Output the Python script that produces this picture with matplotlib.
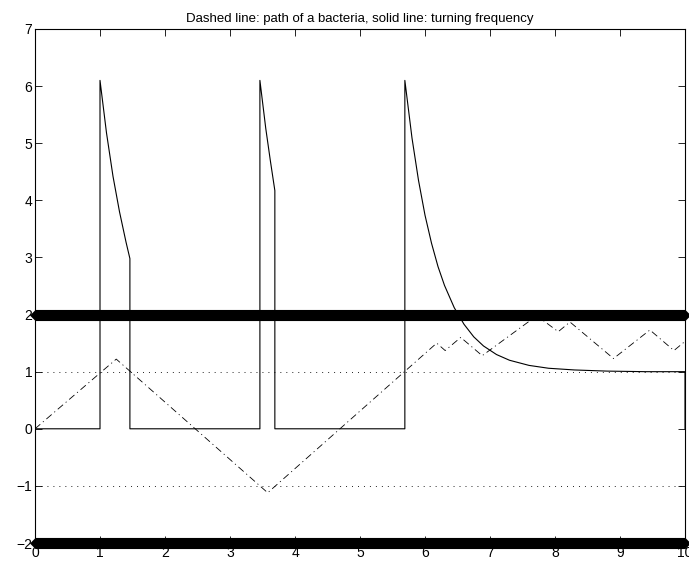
import numpy as np
import matplotlib
matplotlib.use("Agg")
import matplotlib.pyplot as plt

plt.rcParams['font.family'] = ['Liberation Sans', 'DejaVu Sans']
plt.rcParams['lines.scale_dashes'] = False

# bacteria path (piecewise linear, turning points)
path_t = [0.0, 1.25, 3.58, 6.18, 6.31, 6.55, 6.88, 7.72, 8.05, 8.23, 8.90, 9.46, 9.83, 10.0]
path_y = [0.0, 1.22, -1.12, 1.50, 1.37, 1.60, 1.28, 1.98, 1.70, 1.87, 1.23, 1.73, 1.37, 1.53]

# turning frequency
freq_t = [0.0, 1.0, 1.0, 1.1, 1.2, 1.3, 1.4, 1.46, 1.46,
          3.46, 3.46, 3.55, 3.62, 3.69, 3.69,
          5.69, 5.69, 5.8, 5.9, 6.0, 6.1, 6.2, 6.3, 6.45, 6.6, 6.75, 6.9,
          7.1, 7.3, 7.6, 7.9, 8.3, 8.8, 9.4, 10.0, 10.0]
freq_y = [0.0, 0.0, 6.10, 5.18, 4.42, 3.80, 3.27, 2.98, 0.0,
          0.0, 6.10, 5.26, 4.70, 4.17, 0.0,
          0.0, 6.10, 5.09, 4.35, 3.74, 3.25, 2.84, 2.51, 2.12, 1.83, 1.61, 1.45,
          1.30, 1.20, 1.11, 1.06, 1.03, 1.01, 1.00, 1.00, 0.0]

band_levels = [2, -2]
dotted_levels = [1, -1]

fig = plt.figure(figsize=(6.89, 5.65), dpi=100)
ax = fig.add_axes([0.0508, 0.0389, 0.9434, 0.9098])

for lev in dotted_levels:
    ax.plot([0, 10], [lev, lev], color='black', lw=0.6, dashes=(0.7, 3.6))

ax.plot(path_t, path_y, color='black', lw=0.6, dashes=(5, 2.5, 0.8, 2.5))
ax.plot(freq_t, freq_y, color='black', lw=0.8)

for lev in band_levels:
    ax.plot([0, 10], [lev, lev], color='black', lw=8, solid_capstyle='butt',
            zorder=5, clip_on=False)
    ax.plot([0, 10], [lev, lev], 'D', color='black', ms=5.6, mew=0.5,
            zorder=5, clip_on=False)

ax.set_xlim(0, 10)
ax.set_ylim(-2, 7)
ax.set_xticks(range(0, 11))
ax.set_yticks(range(-2, 8))
ax.tick_params(direction='in', length=5, width=0.6, top=True, right=True,
               labelsize=10, pad=2)
for s in ax.spines.values():
    s.set_linewidth(0.8)

ax.set_title('Dashed line: path of a bacteria, solid line: turning frequency',
             fontsize=9.5, pad=5)

fig.savefig('out.png', dpi=100)
